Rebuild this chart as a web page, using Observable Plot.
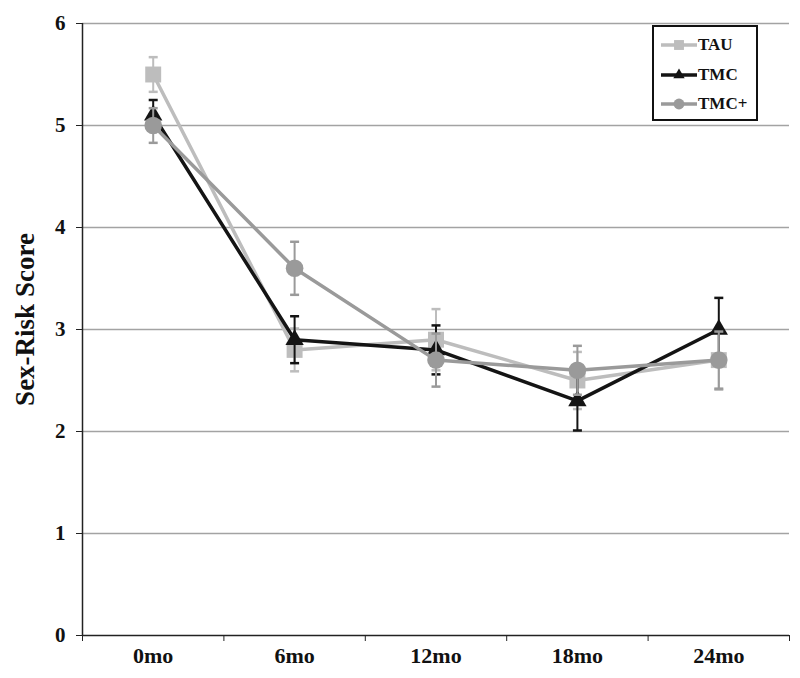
<!DOCTYPE html>
<html>
<head>
<meta charset="utf-8">
<script src="https://cdn.jsdelivr.net/npm/d3@7"></script>
<script src="https://cdn.jsdelivr.net/npm/@observablehq/plot@0.6"></script>
<style>
  html, body { margin: 0; padding: 0; background: #fff; }
  #wrap { position: relative; width: 800px; height: 678px; }
  #legend {
    position: absolute; left: 652px; top: 25px; width: 102px; height: 92px;
    border: 2.5px solid #111; background: #fff;
    font-family: "Liberation Serif", serif; font-weight: bold; font-size: 17px; color: #111;
  }
  #legend .row { position: absolute; left: 7px; display: flex; align-items: center; height: 20px; }
  #legend svg { display: block; margin-right: 1px; }
</style>
</head>
<body>
<div id="wrap"><div id="legend"></div></div>
<script>
// ---- data ----
const months = ["0mo", "6mo", "12mo", "18mo", "24mo"];
const seriesNames = ["TAU", "TMC", "TMC+"];
const tauValues = [5.5, 2.8, 2.9, 2.5, 2.7];
const tauErrors = [0.17, 0.21, 0.30, 0.28, 0.29];
const tmcValues = [5.1, 2.9, 2.8, 2.3, 3.0];
const tmcErrors = [0.15, 0.23, 0.24, 0.29, 0.31];
const tmcPlusValues = [5.0, 3.6, 2.7, 2.6, 2.7];
const tmcPlusErrors = [0.17, 0.26, 0.26, 0.24, 0.28];
const yTicks = [0, 1, 2, 3, 4, 5, 6];
const yLabel = "Sex-Risk Score";

// ---- styles ----
const colors = {"TAU": "#bdbdbd", "TMC": "#141414", "TMC+": "#9a9a9a"};
const symbols = {"TAU": "square", "TMC": "triangle", "TMC+": "circle"};
const radii = {"TAU": 9, "TMC": 6.8, "TMC+": 8.8};

const valueSets = {"TAU": [tauValues, tauErrors], "TMC": [tmcValues, tmcErrors], "TMC+": [tmcPlusValues, tmcPlusErrors]};
const rows = [];
for (const s of seriesNames) {
  const [vals, errs] = valueSets[s];
  months.forEach((m, i) => rows.push({series: s, month: m, idx: i + 0.5, value: vals[i], lo: vals[i] - errs[i], hi: vals[i] + errs[i]}));
}

const capSymbol = {draw(ctx) { ctx.moveTo(-4.5, 0); ctx.lineTo(4.5, 0); }};

const marks = [
  Plot.ruleY(yTicks.filter(d => d > 0), {stroke: "#a3a3a3", strokeWidth: 1.5}),
  Plot.ruleX([0], {stroke: "#222", strokeWidth: 1.5}),
  Plot.ruleY([0], {stroke: "#222", strokeWidth: 1.5}),
  Plot.axisY({ticks: yTicks, tickSize: 6, tickPadding: 11, tickFormat: d3.format("d"), label: null, fontSize: 21, fontWeight: "bold", stroke: "#222"}),
  Plot.axisX({ticks: d3.range(months.length + 1), tickSize: 6, tickFormat: () => "", label: null, stroke: "#222"}),
  Plot.axisX({ticks: months.map((m, i) => i + 0.5), tickSize: 0, tickPadding: 12, tickFormat: d => months[Math.round(d - 0.5)], label: null, fontSize: 22, fontWeight: "bold"}),
  Plot.text([yLabel], {frameAnchor: "left", textAnchor: "middle", rotate: -90, dx: -57, dy: -10, fontSize: 27, fontWeight: "bold", fill: "#111"})
];

for (const s of seriesNames) {
  const data = rows.filter(r => r.series === s);
  marks.push(
    Plot.line(data, {x: "idx", y: "value", stroke: colors[s], strokeWidth: 3.5}),
    Plot.ruleX(data, {x: "idx", y1: "lo", y2: "hi", stroke: colors[s], strokeWidth: 2}),
    Plot.dot(data, {x: "idx", y: "lo", symbol: capSymbol, stroke: colors[s], strokeWidth: 2.5, r: 3}),
    Plot.dot(data, {x: "idx", y: "hi", symbol: capSymbol, stroke: colors[s], strokeWidth: 2.5, r: 3}),
    Plot.dot(data, {x: "idx", y: "value", symbol: symbols[s], fill: colors[s], stroke: "none", r: radii[s]})
  );
}

const chart = Plot.plot({
  width: 800,
  height: 678,
  marginTop: 23,
  marginBottom: 43,
  marginLeft: 82,
  marginRight: 11,
  style: {fontFamily: "Liberation Serif, serif", fontWeight: "bold", fontSize: "21px", color: "#111", background: "#fff"},
  x: {type: "linear", domain: [0, months.length], axis: null},
  y: {domain: [0, 6], axis: null},
  marks
});
document.getElementById("wrap").prepend(chart);

// ---- legend ----
const legend = document.getElementById("legend");
seriesNames.forEach((s, i) => {
  const row = document.createElement("div");
  row.className = "row";
  row.style.top = (8 + i * 29.5) + "px";
  const sym = d3.symbol(d3[{"square": "symbolSquare", "triangle": "symbolTriangle", "circle": "symbolCircle"}[symbols[s]]], Math.PI * (radii[s] * 0.62) ** 2)();
  row.innerHTML = `<svg width="36" height="20"><line x1="0" x2="36" y1="10" y2="10" stroke="${colors[s]}" stroke-width="3.5"/><path d="${sym}" transform="translate(18,10)" fill="${colors[s]}"/></svg><span>${s}</span>`;
  legend.appendChild(row);
});
</script>
</body>
</html>
